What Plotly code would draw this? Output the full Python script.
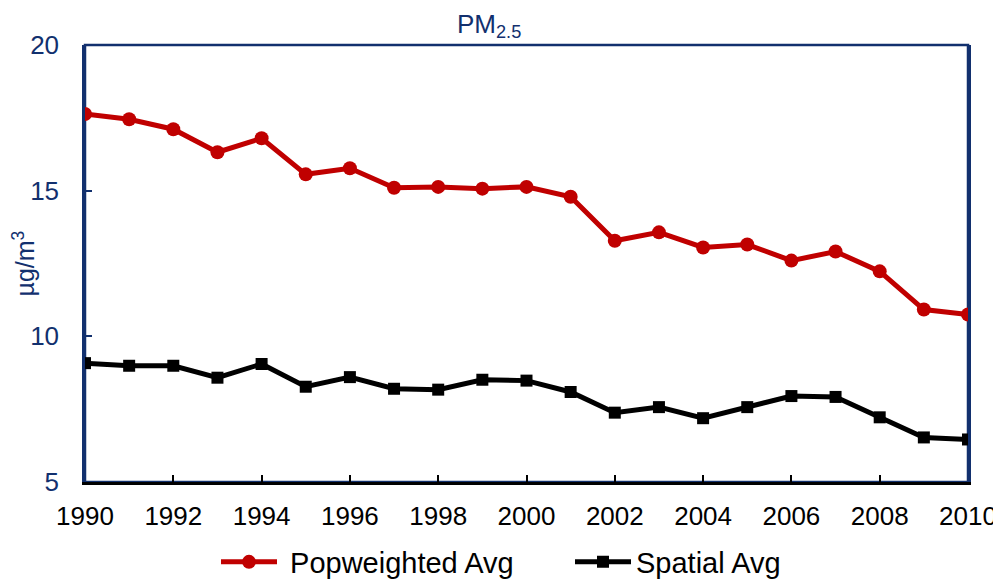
import plotly.graph_objects as go

years = list(range(1990, 2011))
popweighted = [17.63, 17.45, 17.11, 16.32, 16.80, 15.56, 15.77, 15.10, 15.13, 15.07, 15.13,
               14.79, 13.28, 13.57, 13.05, 13.15, 12.60, 12.91, 12.23, 10.92, 10.75]
spatial = [9.08, 8.99, 8.99, 8.58, 9.05, 8.27, 8.60, 8.20, 8.17, 8.51, 8.48,
           8.09, 7.38, 7.57, 7.19, 7.57, 7.95, 7.92, 7.22, 6.53, 6.46]
x_ticks = list(range(1990, 2011, 2))
y_ticks = [5, 10, 15, 20]

NAVY = "#12306E"
RED = "#C00000"
FONT = "Liberation Sans, Arial, sans-serif"

# page body has an 8px default margin: size the figure to fill the rest of the window
W, H = 993, 575
OFF = 8

fig = go.Figure()
fig.add_trace(go.Scatter(x=years, y=popweighted, name=" Popweighted Avg", mode="lines+markers",
                         line=dict(color=RED, width=5),
                         marker=dict(symbol="circle", size=14, color=RED)))
fig.add_trace(go.Scatter(x=years, y=spatial, name="Spatial Avg", mode="lines+markers",
                         line=dict(color="black", width=5),
                         marker=dict(symbol="square", size=12, color="black")))

fig.add_shape(type="rect", xref="paper", yref="paper", x0=0, x1=1, y0=0, y1=1,
              line=dict(color=NAVY, width=2.5), layer="below")

fig.add_annotation(text="PM<sub>2.5</sub>", xref="paper", yref="paper", x=0.4575, y=1.0,
                   xanchor="center", yanchor="bottom", yshift=1, showarrow=False,
                   font=dict(family=FONT, size=26, color=NAVY))

fig.add_annotation(text="µg/m<sup>3</sup>", xref="paper", yref="paper",
                   x=(23 - 85) / 883, y=0.5, xanchor="center", yanchor="middle",
                   textangle=-90, showarrow=False,
                   font=dict(family=FONT, size=25, color=NAVY))

fig.update_layout(
    width=W, height=H,
    margin=dict(l=85 - OFF, r=33, t=45 - OFF, b=101),
    paper_bgcolor="white", plot_bgcolor="white",
    font=dict(family=FONT, size=26, color="black"),
    showlegend=True,
    legend=dict(orientation="h", xref="container", yref="container",
                x=(216 - OFF) / W, xanchor="left", y=21 / H, yanchor="middle",
                font=dict(family=FONT, size=29, color="black"), itemwidth=56,
                entrywidth=283, traceorder="normal", bgcolor="rgba(0,0,0,0)"),
    xaxis=dict(range=[1990, 2010], tickvals=x_ticks, ticks="inside", ticklen=7,
               tickwidth=1.5, tickcolor="black", showline=True, linecolor="black",
               linewidth=2.5, showgrid=False, zeroline=False, automargin=False,
               ticklabelstandoff=9,
               tickfont=dict(family=FONT, size=26, color="black")),
    yaxis=dict(range=[5, 20], tickvals=y_ticks, ticks="inside", ticklen=7,
               tickwidth=1.5, tickcolor=NAVY, showline=True, linecolor=NAVY,
               linewidth=2.5, mirror=True, showgrid=False, zeroline=False,
               automargin=False, ticklabelstandoff=18,
               tickfont=dict(family=FONT, size=26, color=NAVY)),
)

fig.write_html("out.html")
